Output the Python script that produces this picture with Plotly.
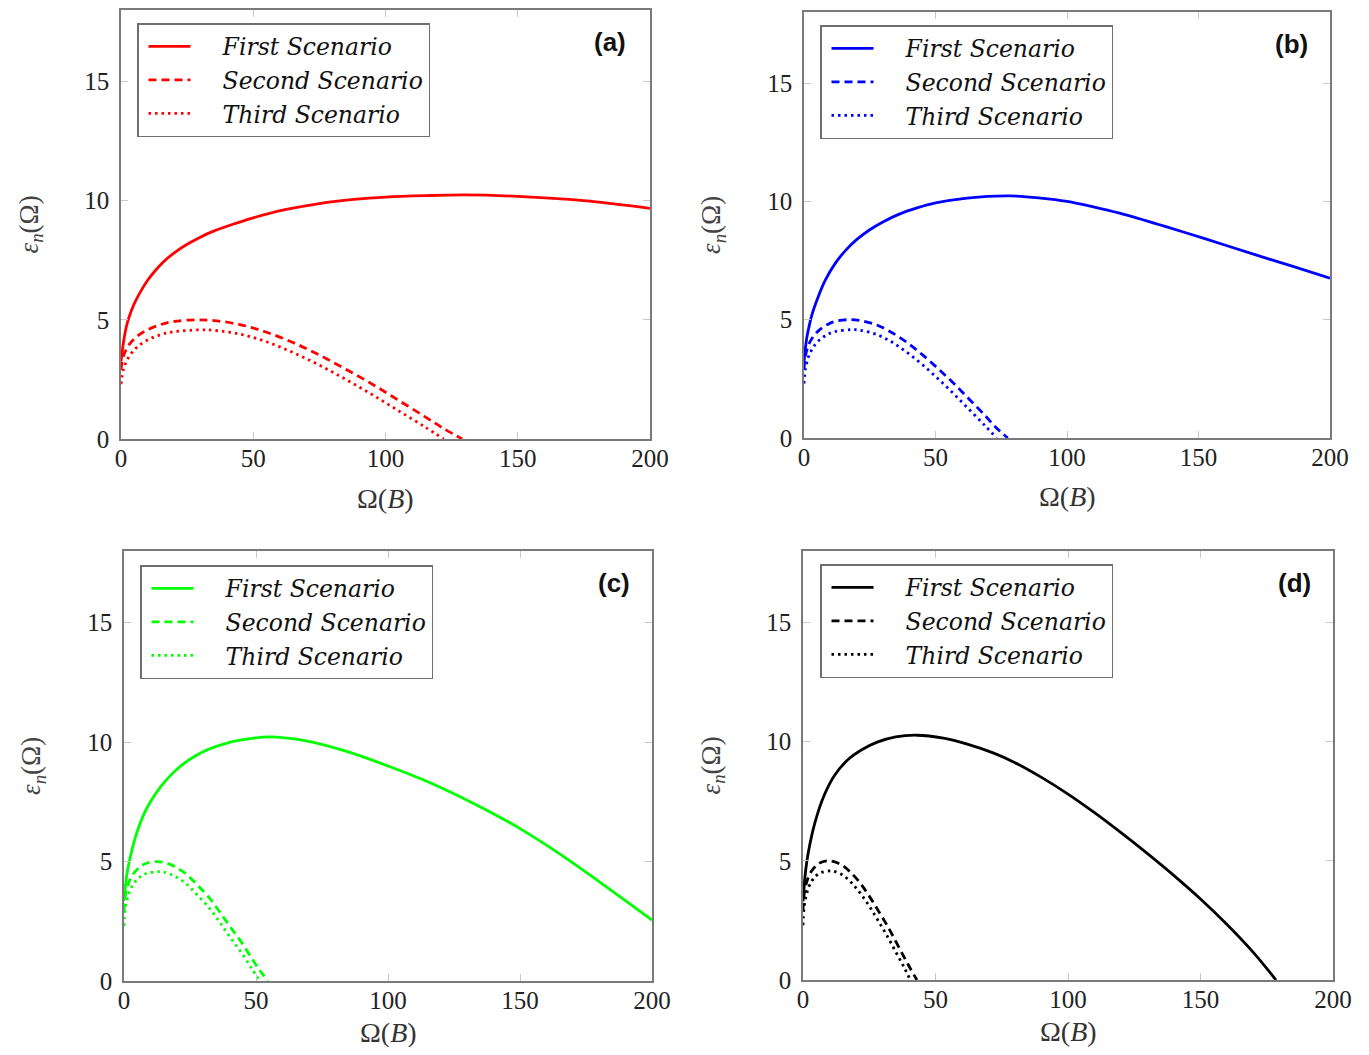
import plotly.graph_objects as go

# ---------------- data ----------------
scenario_names = ["First Scenario", "Second Scenario", "Third Scenario"]
panel_labels = ["(a)", "(b)", "(c)", "(d)"]
panel_colors = ["#ff0000", "#0000ff", "#00ff00", "#000000"]

x_ticks = [0, 50, 100, 150, 200]
y_ticks = [0, 5, 10, 15]

# panel (a)
xa1 = [0, 1, 2, 3, 4.5, 6, 8, 10, 13, 16, 20, 25, 30, 35, 42, 50, 62, 75, 88, 100, 115, 130, 150, 175, 200]
ya1 = [3.25, 4.1, 4.7, 5.1, 5.55, 5.9, 6.3, 6.65, 7.07, 7.43, 7.8, 8.17, 8.47, 8.72, 9.0, 9.28, 9.62, 9.88, 10.05, 10.15, 10.21, 10.24, 10.18, 10.0, 9.68]
xa2 = [0, 1, 3, 6, 10, 15, 20, 28, 35, 45, 55, 65, 75, 85, 95, 105, 115, 122, 129]
ya2 = [2.9, 3.5, 3.95, 4.3, 4.58, 4.8, 4.93, 5.0, 4.97, 4.8, 4.48, 4.05, 3.52, 2.93, 2.3, 1.62, 0.93, 0.44, 0.0]
xa3 = [0, 1, 3, 6, 10, 15, 20, 30, 35, 45, 55, 65, 75, 85, 95, 105, 115, 122]
ya3 = [2.3, 2.95, 3.45, 3.85, 4.15, 4.38, 4.5, 4.58, 4.56, 4.4, 4.08, 3.63, 3.1, 2.5, 1.86, 1.18, 0.5, 0.0]

# panel (b)
xb1 = [0, 1, 2, 3, 5, 8, 12, 16, 20, 25, 30, 36, 43, 50, 62, 78, 90, 100, 110, 120, 137, 153, 170, 185, 200]
yb1 = [3.2, 4.2, 4.75, 5.2, 5.85, 6.65, 7.4, 7.95, 8.38, 8.8, 9.13, 9.45, 9.72, 9.93, 10.14, 10.23, 10.14, 10.0, 9.77, 9.5, 8.95, 8.4, 7.8, 7.28, 6.75]
xb2 = [0, 0.6, 1.8, 3.6, 6, 9, 12, 17, 21, 27, 33, 39, 45, 51, 57, 63, 69, 73, 77.5]
yb2 = [2.9, 3.5, 3.95, 4.3, 4.58, 4.8, 4.93, 5.0, 4.97, 4.8, 4.48, 4.05, 3.52, 2.93, 2.3, 1.62, 0.93, 0.44, 0.0]
xb3 = [0, 0.6, 1.8, 3.6, 6, 9, 12, 18, 21, 27, 33, 39, 45, 51, 57, 63, 69, 73.2]
yb3 = [2.3, 2.95, 3.45, 3.85, 4.15, 4.38, 4.5, 4.58, 4.56, 4.4, 4.08, 3.63, 3.1, 2.5, 1.86, 1.18, 0.5, 0.0]

# panel (c)
xc1 = [0, 1, 2, 4, 7, 10, 14, 18, 22, 27, 32, 38, 45, 55, 68, 84, 100, 117, 133, 150, 166, 183, 200]
yc1 = [3.35, 4.4, 5.0, 5.9, 6.85, 7.5, 8.15, 8.65, 9.05, 9.42, 9.7, 9.93, 10.1, 10.22, 10.07, 9.62, 9.0, 8.25, 7.4, 6.38, 5.25, 3.92, 2.55]
xc2 = [0, 0.4, 1.3, 2.5, 4.2, 6.3, 8.5, 12.5, 15, 19, 23.5, 27.5, 32, 36, 40, 44.5, 48.5, 51.5, 54.5]
yc2 = [2.9, 3.5, 3.95, 4.3, 4.58, 4.8, 4.93, 5.0, 4.97, 4.8, 4.48, 4.05, 3.52, 2.93, 2.3, 1.62, 0.93, 0.44, 0.0]
xc3 = [0, 0.4, 1.3, 2.5, 4.2, 6.3, 8.5, 13, 15, 19, 23.5, 27.5, 32, 36, 40, 44.5, 48.5, 51.5]
yc3 = [2.3, 2.95, 3.45, 3.85, 4.15, 4.38, 4.5, 4.58, 4.56, 4.4, 4.08, 3.63, 3.1, 2.5, 1.86, 1.18, 0.5, 0.0]

# panel (d)
xd1 = [0, 1, 2, 4.5, 8, 12, 17, 22, 28, 35, 43, 53, 62, 72, 80, 90, 100, 110, 120, 130, 140, 150, 160, 170, 178.5]
yd1 = [3.3, 4.6, 5.35, 6.6, 7.75, 8.6, 9.25, 9.65, 9.98, 10.2, 10.27, 10.15, 9.9, 9.52, 9.12, 8.5, 7.8, 7.02, 6.18, 5.3, 4.38, 3.4, 2.33, 1.15, 0.0]
xd2 = [0, 0.33, 1, 2, 3.3, 5, 6.7, 9.5, 11.7, 15, 18.3, 21.7, 25, 28.3, 31.7, 35, 38.3, 40.7, 43]
yd2 = [2.9, 3.5, 3.95, 4.3, 4.58, 4.8, 4.93, 5.0, 4.97, 4.8, 4.48, 4.05, 3.52, 2.93, 2.3, 1.62, 0.93, 0.44, 0.0]
xd3 = [0, 0.33, 1, 2, 3.3, 5, 6.7, 10, 11.7, 15, 18.3, 21.7, 25, 28.3, 31.7, 35, 38.3, 40.5]
yd3 = [2.3, 2.95, 3.45, 3.85, 4.15, 4.38, 4.5, 4.58, 4.56, 4.4, 4.08, 3.63, 3.1, 2.5, 1.86, 1.18, 0.5, 0.0]

panels = [
    [(xa1, ya1), (xa2, ya2), (xa3, ya3)],
    [(xb1, yb1), (xb2, yb2), (xb3, yb3)],
    [(xc1, yc1), (xc2, yc2), (xc3, yc3)],
    [(xd1, yd1), (xd2, yd2), (xd3, yd3)],
]

# ---------------- layout geometry ----------------
# page is 1369x1055; the html body keeps its default 8px margin,
# so the figure is made 16px smaller and page pixels are shifted by 8.
PAGE_W, PAGE_H, OFF = 1369, 1055, 8
W, H = PAGE_W - 2 * OFF, PAGE_H - 2 * OFF


def fx(px):
    return (px - OFF) / W


def fy(py):
    return 1 - (py - OFF) / H


# plot boxes in page pixels: left, right, top, bottom
boxes = [(121, 650, 10, 439), (804, 1330, 12, 438), (124, 652, 551, 981), (803, 1333, 551, 980)]
legend_pos = [(137, 23), (820, 25), (140, 565), (820, 564)]
label_pos = [(610, 42), (1291, 44), (614, 583), (1294, 583)]
xtitle_gap = [59, 59, 51, 51]

dashes = ["solid", "8px,5px", "2.5px,4px"]
serif = "Liberation Serif"
legend_font = "DejaVu Serif"
PAD = "\u00a0" * 3 + "\u2009"

fig = go.Figure()
for p, series in enumerate(panels):
    ax = "" if p == 0 else str(p + 1)
    lg = "legend" if p == 0 else "legend" + str(p + 1)
    for s, (xs, ys) in enumerate(series):
        fig.add_trace(go.Scatter(
            x=xs, y=ys, mode="lines",
            line=dict(color=panel_colors[p], width=2.8, dash=dashes[s], shape="spline", smoothing=1.0),
            name=PAD + "<i>" + scenario_names[s] + "</i>",
            xaxis="x" + ax, yaxis="y" + ax, legend=lg,
        ))

layout = dict(
    width=W, height=H, margin=dict(l=0, r=0, t=0, b=0, autoexpand=False),
    paper_bgcolor="white", plot_bgcolor="white", showlegend=True,
    font=dict(family=serif, size=25, color="#222222"),
)
annotations = []
for p, (l, r, t, b) in enumerate(boxes):
    ax = "" if p == 0 else str(p + 1)
    common = dict(showline=True, linecolor="#7a7a7a", linewidth=1.6, mirror="ticks",
                  ticks="inside", ticklen=7, tickwidth=1, tickcolor="#c8c8c8",
                  showgrid=False, zeroline=False, automargin=False,
                  tickfont=dict(family=serif, size=25, color="#222222"))
    layout["xaxis" + ax] = dict(common, domain=[fx(l), fx(r)], range=[0, 200],
                                tickvals=x_ticks, anchor="y" + ax, ticklabelstandoff=-4)
    layout["yaxis" + ax] = dict(common, domain=[fy(b), fy(t)], range=[0, 18],
                                tickvals=y_ticks, anchor="x" + ax, ticklabelstandoff=5)
    lx, ly = legend_pos[p]
    layout["legend" if p == 0 else "legend" + str(p + 1)] = dict(
        x=fx(lx), y=fy(ly), xanchor="left", yanchor="top",
        bgcolor="white", bordercolor="#6e6e6e", borderwidth=1.5,
        font=dict(family=legend_font, size=23.5, color="#111111"),
        itemwidth=42, indentation=5, tracegroupgap=0,
    )
    cx, cy = label_pos[p]
    annotations.append(dict(text="<b>" + panel_labels[p] + "</b>", xref="paper", yref="paper",
                            x=fx(cx), y=fy(cy), xanchor="center", yanchor="middle",
                            showarrow=False, font=dict(family="Liberation Sans", size=26, color="#111111")))
    # axis titles
    annotations.append(dict(text="Ω(<i>B</i>)", xref="paper", yref="paper",
                            x=fx((l + r) / 2), y=fy(b + xtitle_gap[p]), xanchor="center", yanchor="middle",
                            showarrow=False, font=dict(family=serif, size=28, color="#333333")))
    annotations.append(dict(text="<i>ε</i><sub><i>n</i></sub>(Ω)", xref="paper", yref="paper",
                            x=fx(l - 91), y=fy((t + b) / 2), xanchor="center", yanchor="middle",
                            textangle=-90, showarrow=False,
                            font=dict(family=serif, size=27, color="#444444")))
layout["annotations"] = annotations
fig.update_layout(**layout)
fig.write_html("out.html")
